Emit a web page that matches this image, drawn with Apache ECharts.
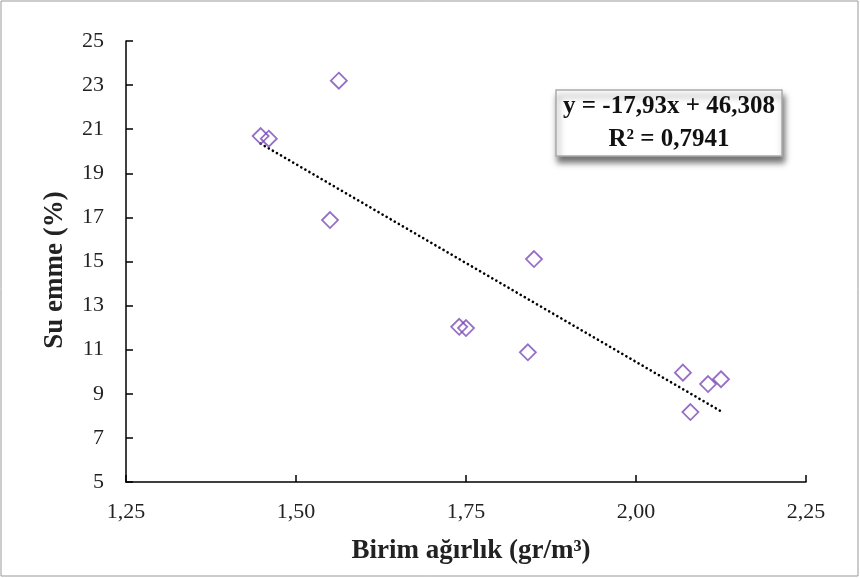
<!DOCTYPE html>
<html>
<head>
<meta charset="utf-8">
<script src="https://cdn.jsdelivr.net/npm/echarts@6/dist/echarts.min.js"></script>
<style>html,body{margin:0;padding:0;background:#fff;}#c{width:860px;height:578px;}</style>
</head>
<body>
<div id="c"></div>
<script>
const xValues = [1.448, 1.460, 1.563, 1.550, 1.740, 1.750, 1.850, 1.841, 2.069, 2.080, 2.106, 2.125];
const yValues = [20.69, 20.57, 23.20, 16.88, 12.04, 11.98, 15.11, 10.88, 9.96, 8.17, 9.44, 9.66];
const trendSlope = -17.93;
const trendIntercept = 46.308;
const equationLines = ['y = -17,93x + 46,308', 'R² = 0,7941'];
const xTitle = 'Birim ağırlık (gr/m³)';
const yTitle = 'Su emme (%)';

const pts = xValues.map((x, i) => [x, yValues[i]]);
const xmin = Math.min(...xValues), xmax = Math.max(...xValues);
const trend = [[xmin, trendIntercept + trendSlope * xmin], [xmax, trendIntercept + trendSlope * xmax]];

const chart = echarts.init(document.getElementById('c'));
const serif = '"Liberation Serif", "Times New Roman", serif';
chart.setOption({
  animation: false,
  backgroundColor: '#fff',
  grid: { left: 126, right: 54, top: 41, bottom: 96 },
  xAxis: {
    type: 'value', min: 1.25, max: 2.25, interval: 0.25,
    splitLine: { show: false },
    axisLine: { lineStyle: { color: '#000', width: 1.5 } },
    axisTick: { inside: true, length: 7, lineStyle: { color: '#000', width: 1.5 } },
    axisLabel: { color: '#222', fontFamily: serif, fontSize: 22, margin: 19,
      formatter: v => v.toFixed(2).replace('.', ',') }
  },
  yAxis: {
    type: 'value', min: 5, max: 25, interval: 2,
    splitLine: { show: false },
    axisLine: { lineStyle: { color: '#000', width: 1.5 } },
    axisTick: { inside: true, length: 7, lineStyle: { color: '#000', width: 1.5 } },
    axisLabel: { color: '#222', fontFamily: serif, fontSize: 22, margin: 22 }
  },
  series: [
    {
      type: 'line', data: trend, showSymbol: false, symbol: 'none', z: 1,
      lineStyle: { color: '#000', width: 2.6, type: [0.1, 4.6], cap: 'round' }
    },
    {
      type: 'scatter', data: pts, symbol: 'diamond', symbolSize: [16, 16], z: 3,
      itemStyle: { color: 'rgba(255,255,255,0)', borderColor: '#7A4AB8', borderWidth: 1.8 }
    }
  ],
  graphic: [
    { type: 'rect', shape: { x: 1, y: 1, width: 857, height: 575 },
      style: { fill: 'none', stroke: '#999', lineWidth: 1 }, z: 0 },
    { type: 'text', x: 471, y: 551, z: 5,
      style: { text: xTitle, font: 'bold 27px ' + serif, fill: '#222', align: 'center', verticalAlign: 'middle' } },
    { type: 'text', x: 55, y: 270, rotation: Math.PI / 2, z: 5,
      style: { text: yTitle, font: 'bold 27px ' + serif, fill: '#222', align: 'center', verticalAlign: 'middle' } },
    { type: 'rect', shape: { x: 556, y: 90, width: 226, height: 66 },
      style: { fill: '#fff', stroke: '#aaa', lineWidth: 1.5,
        shadowBlur: 6, shadowOffsetX: 2, shadowOffsetY: 6, shadowColor: 'rgba(0,0,0,0.55)' }, z: 10 },
    { type: 'text', x: 669, y: 107, z: 11,
      style: { text: equationLines[0], font: 'bold 25px ' + serif, fill: '#111', align: 'center', verticalAlign: 'middle' } },
    { type: 'text', x: 669, y: 140, z: 11,
      style: { text: equationLines[1], font: 'bold 25px ' + serif, fill: '#111', align: 'center', verticalAlign: 'middle' } }
  ]
});
</script>
</body>
</html>
